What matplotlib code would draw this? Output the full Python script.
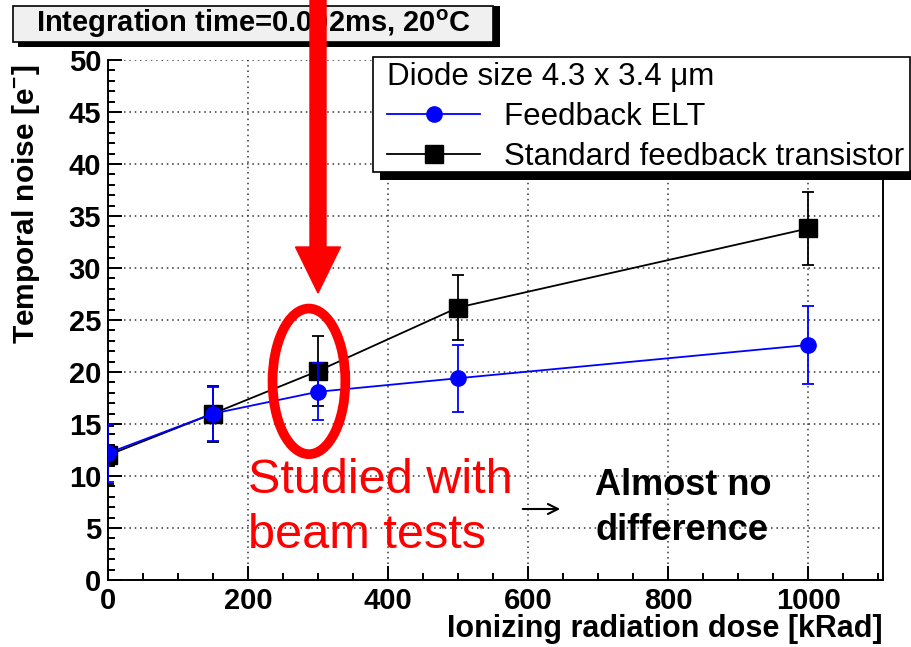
import matplotlib
matplotlib.use("Agg")
import matplotlib.pyplot as plt
from matplotlib.patches import Rectangle, Ellipse, FancyArrow
from matplotlib.transforms import IdentityTransform
from matplotlib.ticker import MultipleLocator

plt.rcParams["font.family"] = ["Liberation Sans", "DejaVu Sans"]
plt.rcParams["mathtext.fontset"] = "custom"
plt.rcParams["mathtext.rm"] = "Liberation Sans"
plt.rcParams["mathtext.bf"] = "Liberation Sans:bold"

# data
dose = [0, 150, 300, 500, 1000]
elt_noise = [12.2, 16.0, 18.1, 19.4, 22.6]
elt_err = [2.8, 2.6, 2.75, 3.2, 3.75]
std_noise = [12.0, 16.0, 20.1, 26.2, 33.8]
std_err = [2.8, 2.7, 3.35, 3.1, 3.55]

W, H = 912, 647
fig = plt.figure(figsize=(W / 100, H / 100), dpi=100)
ax = fig.add_axes([108 / W, 1 - 580 / H, 775 / W, 520 / H])

# standard feedback first, ELT on top
ax.errorbar(dose, std_noise, yerr=std_err, fmt="none", ecolor="black",
            elinewidth=1.3, capsize=4, capthick=1.3, zorder=3)
l_std, = ax.plot(dose, std_noise, color="black", lw=1.3, marker="s",
                 markersize=13, zorder=3, label="Standard feedback transistor")
ax.errorbar(dose, elt_noise, yerr=elt_err, fmt="none", ecolor="blue",
            elinewidth=1.3, capsize=4, capthick=1.3, zorder=4)
l_elt, = ax.plot(dose, elt_noise, color="blue", lw=1.3, marker="o",
                 markersize=11, zorder=4, label="Feedback ELT")

ax.set_xlim(0, 1107)
ax.set_ylim(0, 50)
ax.xaxis.set_major_locator(MultipleLocator(200))
ax.xaxis.set_minor_locator(MultipleLocator(50))
ax.yaxis.set_major_locator(MultipleLocator(5))
ax.yaxis.set_minor_locator(MultipleLocator(1))
ax.tick_params(which="both", direction="in", width=1.4, labelsize=21)
ax.tick_params(which="major", length=10)
ax.tick_params(which="minor", length=5)
ax.tick_params(axis="y", pad=5)
ax.tick_params(axis="x", pad=5)
for lab in ax.get_xticklabels() + ax.get_yticklabels():
    lab.set_fontweight("bold")
ax.grid(True, which="major", ls=(0, (1, 2.5)), color="#333333", lw=1.1)
ax.spines["top"].set_visible(False)
for s in ["left", "bottom", "right"]:
    ax.spines[s].set_linewidth(1.4)

ax.set_ylabel("Temporal noise [e$^{\\mathbf{-}}$]", fontsize=21.5,
              fontweight="bold", loc="top")
ax.yaxis.set_label_coords((42 - 108) / 775, 0.99)
ax.set_xlabel("Ionizing radiation dose [kRad]", fontsize=22,
              fontweight="bold", loc="right")
ax.xaxis.set_label_coords(1.0, (580 - 614) / 520)

# annotations
ax.add_patch(Ellipse((287, 19.1), 104, 14.0, fill=False, edgecolor="red",
                     lw=7, zorder=6, clip_on=False))
ax.text(200, 8.37, "Studied with", color="red", fontsize=35, va="baseline")
ax.text(200, 3.08, "beam tests", color="red", fontsize=35, va="baseline")
ax.text(696, 8.17, "Almost no", fontsize=26, fontweight="bold", va="baseline")
ax.text(696, 3.85, "difference", fontsize=26, fontweight="bold", va="baseline")
ax.annotate("", xy=(563, H - 509), xytext=(520, H - 509),
            xycoords="figure pixels", textcoords="figure pixels",
            arrowprops=dict(arrowstyle="->", lw=1.5, color="black",
                            mutation_scale=18))

# title box with shadow
px = IdentityTransform()
fig.add_artist(Rectangle((18, H - 47), 482, 41, transform=px,
                         facecolor="black", edgecolor="none", zorder=7))
fig.add_artist(Rectangle((13, H - 42), 480, 36, transform=px,
                         facecolor="#f0f0f0", edgecolor="black", lw=1.2,
                         zorder=8))
fig.text(253 / W, 1 - 24 / H, "Integration time=0.002ms, 20$^{\\mathbf{o}}$C",
         fontsize=21, fontweight="bold", ha="center", va="center", zorder=9)

# legend: box and shadow drawn by hand, ROOT style
fig.add_artist(Rectangle((380, H - 180), 540, 10, transform=px,
                         facecolor="black", edgecolor="none", zorder=9))
fig.add_artist(Rectangle((373, H - 172), 537, 115, transform=px,
                         facecolor="white", edgecolor="black", lw=1.2,
                         zorder=9.5))
leg = fig.legend(handles=[l_elt, l_std], title="Diode size 4.3 x 3.4 \u03bcm",
                 loc="upper left", bbox_to_anchor=(382 / W, 1 - 57 / H),
                 fontsize=22.5, title_fontsize=22.5, alignment="left",
                 frameon=False, borderaxespad=0, borderpad=0.15,
                 handlelength=3.0, handletextpad=0.75, labelspacing=0.32)
leg.set_zorder(10)

# red arrow from the top
fig.add_artist(FancyArrow(318, H + 5, 0, -(H + 5 - (H - 293)), width=16,
                          head_width=45, head_length=46,
                          length_includes_head=True, color="red",
                          transform=px, zorder=11))

fig.savefig("out.png", dpi=100)
